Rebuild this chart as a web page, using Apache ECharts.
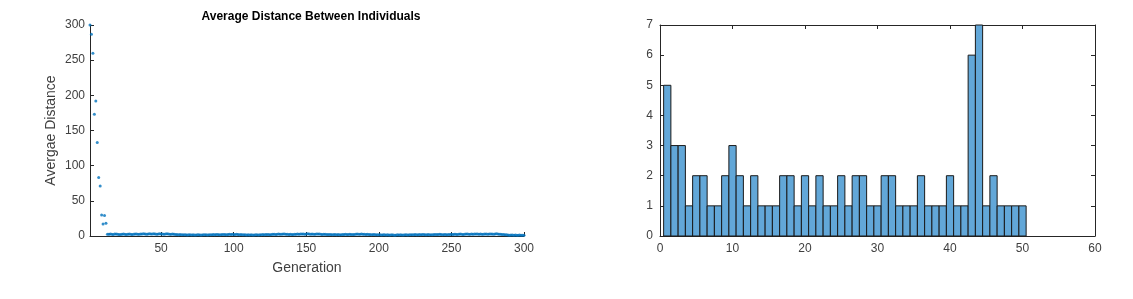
<!DOCTYPE html>
<html>
<head>
<meta charset="utf-8">
<script src="https://cdn.jsdelivr.net/npm/echarts@6/dist/echarts.min.js"></script>
<style>
  html, body { margin: 0; padding: 0; background: #fff; }
  #main { width: 1133px; height: 299px; }
</style>
</head>
<body>
<div id="main"></div>
<script>
// left plot: average distance per generation (gen 1..300)
var headDist = [300, 287, 260, 173, 192, 133, 83, 71, 30, 17, 29, 18];
var tailDist = [
  2.6,2.4,2.8,2.5,2.2,2.7,2.9,2.4,2.1,2.3,2.6,2.8,2.5,2.2,2.4,2.7,2.6,2.3,2.5,2.9,2.8,2.4,2.6,2.7,
  2.9,3.1,2.8,2.6,3.0,3.2,2.9,2.7,3.1,2.8,2.6,2.9,3.3,3.0,2.7,2.5,2.8,3.1,2.9,2.6,2.4,2.7,2.5,2.3,
  2.1,1.9,2.2,1.8,1.6,1.9,1.7,1.5,1.8,1.6,1.4,1.7,1.5,1.3,1.6,1.8,1.5,1.4,1.7,1.9,1.6,1.5,1.8,1.7,
  1.9,2.1,1.8,2.0,2.2,1.9,1.7,2.0,2.3,2.1,1.8,2.0,2.4,2.2,2.6,2.3,2.1,2.4,2.0,1.8,2.1,1.9,1.6,1.8,
  1.5,1.7,1.4,1.6,1.3,1.5,1.8,1.6,1.4,1.7,1.9,2.1,1.8,2.0,2.3,2.1,1.9,2.2,2.4,2.6,2.3,2.5,2.8,2.6,
  2.4,2.7,2.9,2.6,2.4,2.2,2.5,2.3,2.1,2.4,2.6,2.8,2.5,2.7,3.0,2.8,2.6,2.9,3.1,2.8,2.5,2.7,2.4,2.6,
  2.8,3.0,2.7,2.5,2.3,2.6,2.4,2.2,2.0,2.3,2.1,1.9,2.2,2.0,1.8,2.1,1.9,1.7,2.0,2.2,2.4,2.1,2.3,2.5,
  2.2,2.0,2.3,2.5,2.7,2.4,2.6,2.9,2.6,2.4,2.2,2.5,2.3,2.1,1.9,2.2,2.0,1.8,1.6,1.9,1.7,1.5,1.8,1.6,
  1.4,1.7,1.5,1.3,1.6,1.4,1.2,1.5,1.7,1.4,1.6,1.3,1.5,1.8,1.6,1.4,1.7,1.9,1.6,1.8,2.0,1.7,1.9,2.1,
  1.8,2.0,2.2,1.9,1.7,2.0,1.8,1.6,1.9,2.1,2.3,2.0,2.2,2.4,2.1,1.9,2.2,2.0,1.8,2.1,2.3,2.5,2.2,2.4,
  2.6,2.3,2.5,2.7,2.4,2.2,2.5,2.7,2.9,2.6,2.4,2.7,2.5,2.8,3.0,2.7,2.5,2.8,2.6,2.4,2.7,2.9,2.6,2.8,
  3.0,2.7,2.5,2.8,3.1,2.9,2.6,2.4,2.2,2.0,1.8,1.6,1.4,1.2,1.5,1.3,1.1,1.4,1.2,1.0,1.3,1.1,0.9,1.2
];
var genTicks = [50, 100, 150, 200, 250, 300];

// right plot: histogram, bins centred on 1..50
var binCenters = [];
for (var b = 1; b <= 50; b++) binCenters.push(b);
var binCounts = [5,3,3,1,2,2,1,1,2,3, 2,1,2,1,1,1,2,2,1,2, 1,2,1,1,2,1,2,2,1,1,
                 2,2,1,1,1,2,1,1,1,2, 1,1,6,7,1,2,1,1,1,1];

var axisColor = '#262626';
var font = 'Liberation Sans, Arial, sans-serif';

var distData = headDist.concat(tailDist).map(function (v, i) { return [i + 1, v]; });
var histData = binCenters.map(function (c, i) { return [c, binCounts[i]]; });

var labelStyle = { color: '#404040', fontSize: 12, fontFamily: font };
var lineStyle = { show: true, onZero: false, lineStyle: { color: axisColor, width: 1 } };
var tickStyle = { show: true, inside: true, length: 4, lineStyle: { color: axisColor } };

var option = {
  animation: false,
  title: {
    text: 'Average Distance Between Individuals',
    left: 306, top: 6, textAlign: 'center',
    textStyle: { fontSize: 12, fontWeight: 'bold', color: '#000', fontFamily: font }
  },
  grid: [
    { left: 90, right: 609, top: 25, bottom: 63 },
    { left: 660, right: 38, top: 25, bottom: 63 }
  ],
  xAxis: [
    {
      gridIndex: 0, type: 'value', min: 1, max: 300,
      name: 'Generation', nameLocation: 'middle', nameGap: 25,
      nameTextStyle: { fontSize: 14, color: '#404040', fontFamily: font },
      axisLine: lineStyle,
      axisTick: Object.assign({ customValues: genTicks }, tickStyle),
      axisLabel: Object.assign({ customValues: genTicks, margin: 7 }, labelStyle),
      splitLine: { show: false }
    },
    {
      gridIndex: 1, type: 'value', min: 0, max: 60, interval: 10,
      axisLine: lineStyle, axisTick: tickStyle,
      axisLabel: Object.assign({ margin: 7 }, labelStyle),
      splitLine: { show: false }
    },
    {
      // top edge of the box
      gridIndex: 1, type: 'value', min: 0, max: 60, interval: 10, position: 'top',
      axisLine: lineStyle, axisTick: tickStyle, axisLabel: { show: false },
      splitLine: { show: false }
    }
  ],
  yAxis: [
    {
      gridIndex: 0, type: 'value', min: 0, max: 300, interval: 50,
      name: 'Avergae Distance', nameLocation: 'middle', nameGap: 32,
      nameTextStyle: { fontSize: 14, color: '#404040', fontFamily: font },
      axisLine: lineStyle, axisTick: tickStyle,
      axisLabel: Object.assign({ margin: 5 }, labelStyle),
      splitLine: { show: false }
    },
    {
      gridIndex: 1, type: 'value', min: 0, max: 7, interval: 1,
      axisLine: lineStyle, axisTick: tickStyle,
      axisLabel: Object.assign({ margin: 7 }, labelStyle),
      splitLine: { show: false }
    },
    {
      // right edge of the box
      gridIndex: 1, type: 'value', min: 0, max: 7, interval: 1, position: 'right',
      axisLine: lineStyle, axisTick: tickStyle, axisLabel: { show: false },
      splitLine: { show: false }
    }
  ],
  series: [
    {
      type: 'scatter', xAxisIndex: 0, yAxisIndex: 0,
      data: distData, symbolSize: 3,
      itemStyle: { color: '#0072BD' }
    },
    {
      type: 'custom', xAxisIndex: 1, yAxisIndex: 1,
      data: histData,
      renderItem: function (params, api) {
        var c = api.value(0), n = api.value(1);
        var p0 = api.coord([c - 0.5, n]);
        var p1 = api.coord([c + 0.5, 0]);
        return {
          type: 'rect',
          shape: { x: p0[0], y: p0[1], width: p1[0] - p0[0], height: p1[1] - p0[1] },
          style: { fill: '#62A7D8', stroke: '#1a1a1a', lineWidth: 1 }
        };
      }
    }
  ]
};

var chart = echarts.init(document.getElementById('main'));
chart.setOption(option);
</script>
</body>
</html>
